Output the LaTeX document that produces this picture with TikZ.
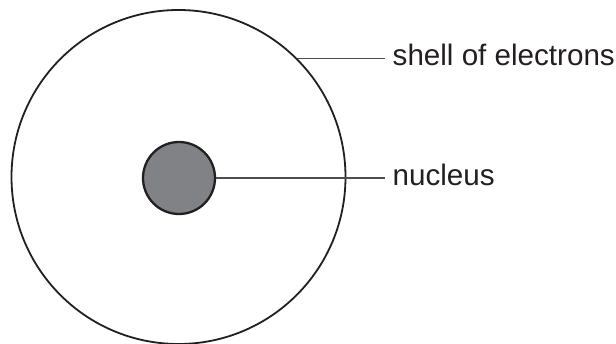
\documentclass[tikz,border=0pt]{standalone}
\usepackage{fontspec}
\setmainfont{Liberation Sans}
\definecolor{ink}{HTML}{231F20}
\definecolor{nucgray}{HTML}{808285}
\definecolor{leader}{HTML}{4D4D4F}
\begin{document}
\begin{tikzpicture}[x=1pt,y=-1pt,
  ring/.style={circle,draw=ink,line width=1.8pt,inner sep=0pt},
  lead/.style={draw=leader,line width=1.2pt},
  lbl/.style={anchor=base west,inner xsep=7.5pt,inner ysep=0pt,text=ink,font=\fontsize{29.6}{34}\selectfont}]
\useasboundingbox (0,0) rectangle (616,344);
\node[ring,minimum size=334pt] (shell) at (178.5,177) {};
\node[ring,line width=2.3pt,fill=nucgray,minimum size=72pt] (nucleus) at (179,178) {};
\node[lbl] (shelllabel) at (385,66) {shell of electrons};
\node[lbl] (nucleuslabel) at (385,185.8) {nucleus};
\draw[lead] (shell.45) -- (shell.45 -| shelllabel.west);
\draw[lead] (nucleus.east) -- (nucleus.east -| nucleuslabel.west);
\end{tikzpicture}
\end{document}
